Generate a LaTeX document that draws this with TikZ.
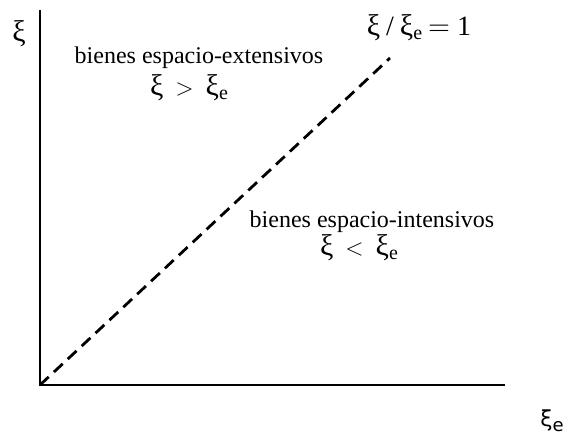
\documentclass[tikz,border=0pt]{standalone}
\usepackage{fontspec}
\setmainfont{Liberation Serif}
\newfontfamily\axisfont{DejaVu Sans}
\usetikzlibrary{positioning, calc}
\newcommand{\gx}{{\fontsize{15}{15}\selectfont ξ}}
\newcommand{\sube}{\raisebox{-0.35ex}{\fontsize{10}{10}\selectfont e}}

\begin{document}
\begin{tikzpicture}[
  x=0.5pt, y=-0.5pt,
  font=\fontsize{12}{14}\selectfont,
  axis/.style={line width=1pt},
  diag/.style={line width=1.4pt, dash pattern=on 6pt off 3.5pt},
  lbl/.style={inner sep=0pt, align=center}
]
\useasboundingbox (0,0) rectangle (568,439);
\coordinate (origin) at (40,385);
\coordinate (ytop) at (40,10);
\coordinate (xend) at (505,385);
\coordinate (diagend) at (390,58);
\draw[axis] (ytop) -- (origin) -- (xend);
\draw[diag] (origin) -- (diagend);
\node[lbl] (yname) at (19,34) {\gx};
\node[lbl, anchor=east, font=\axisfont\fontsize{11}{11}\selectfont] (xname) at (564,421) {ξ\raisebox{-0.4ex}{\fontsize{9}{9}\selectfont e}};
\node[lbl] (ratio) at (419,28) {\gx{} {\fontsize{14}{14}\selectfont /} \gx\sube{} {\fontsize{14}{14}\selectfont $=$ 1}};
\node[lbl] (ext) at (199,58) {bienes espacio-extensivos};
\node[lbl] (extrel) at (189,88) {\gx{} ~$>$~ \gx\sube};
\node[lbl] (int) at (372,222) {bienes espacio-intensivos};
\node[lbl] (intrel) at (359,248) {\gx{} ~$<$~ \gx\sube};
\end{tikzpicture}
\end{document}
